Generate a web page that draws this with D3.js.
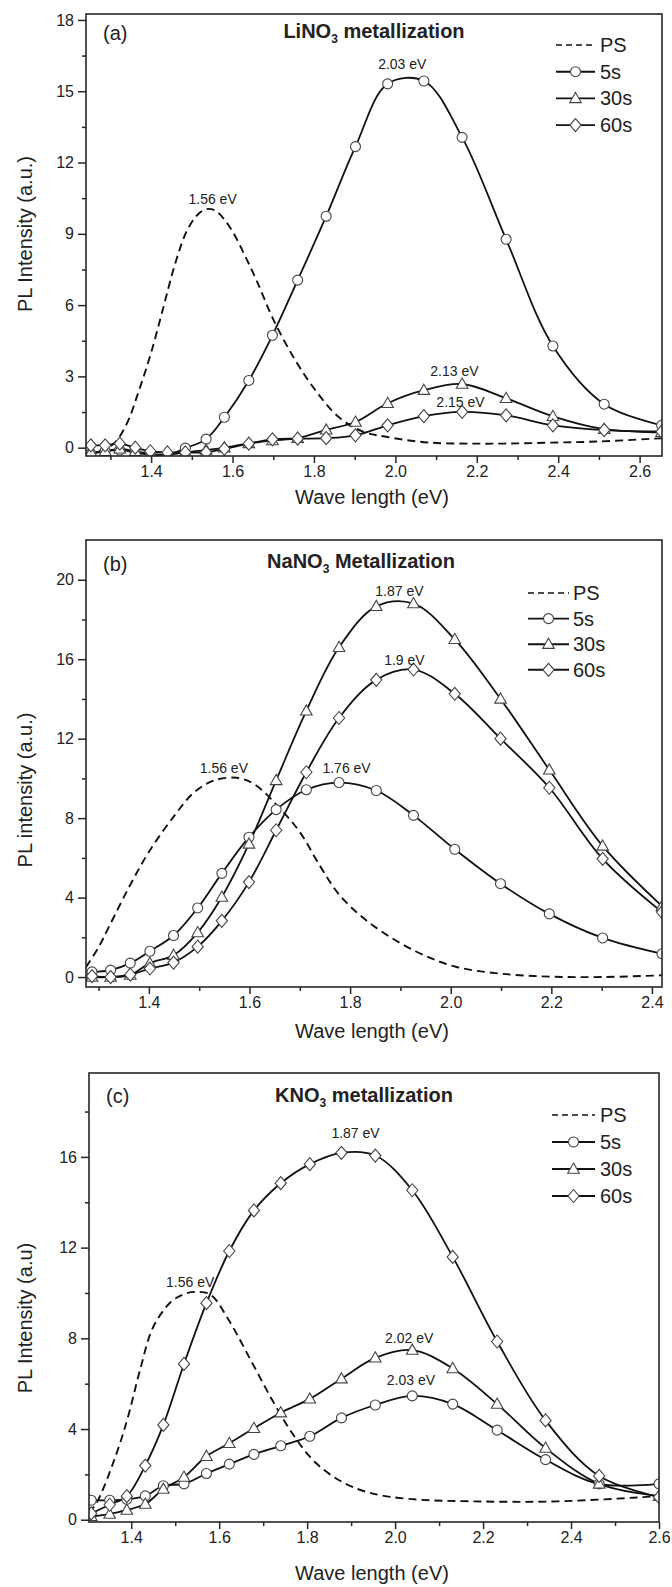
<!DOCTYPE html>
<html><head><meta charset="utf-8">
<script src="https://cdn.jsdelivr.net/npm/d3@7"></script>
<style>
body{margin:0;background:#fff;}
svg text{font-family:"Liberation Sans", Arial, Helvetica, sans-serif; fill:#222;}
</style></head><body>
<svg id="chart" width="672" height="1587"></svg>
<script>
// ---------------- DATA ----------------
const seriesNames = ["PS", "5s", "30s", "60s"];

// Panel (a) LiNO3
const aX   = [1.252,1.287,1.323,1.361,1.398,1.44,1.484,1.535,1.58,1.64,1.698,1.76,1.83,1.902,1.981,2.07,2.164,2.272,2.387,2.513,2.654];
const a5s  = [-0.25,-0.15,-0.1,-0.2,-0.3,-0.3,-0.02,0.36,1.28,2.83,4.73,7.05,9.74,12.67,15.31,15.43,13.06,8.77,4.28,1.83,0.94];
const a30s = [-0.2,-0.15,-0.05,-0.15,-0.25,-0.3,-0.2,-0.1,0.0,0.18,0.3,0.4,0.75,1.08,1.87,2.42,2.68,2.08,1.32,0.78,0.65];
const a60s = [0.1,0.1,0.17,0.0,-0.15,-0.2,-0.2,-0.2,-0.05,0.17,0.35,0.38,0.4,0.52,0.94,1.33,1.51,1.36,0.94,0.74,0.68];
const aPSx = [1.24,1.28,1.31,1.34,1.37,1.40,1.43,1.46,1.49,1.52,1.54,1.56,1.58,1.60,1.63,1.66,1.70,1.75,1.80,1.86,1.92,1.98,2.08,2.20,2.30,2.40,2.50,2.655];
const aPSy = [-0.2,-0.1,0.2,1.0,2.4,4.0,5.9,7.8,9.2,9.9,10.05,9.95,9.6,9.1,8.1,7.0,5.4,3.8,2.5,1.3,0.68,0.45,0.22,0.17,0.18,0.22,0.26,0.4];
const aNotes = ["2.03 eV","1.56 eV","2.13 eV","2.15 eV"];
const aNoteX = [2.017,1.551,2.145,2.16];
const aNoteY = [15.94,10.25,3.01,1.71];
const aXTicks = [1.4,1.6,1.8,2.0,2.2,2.4,2.6];
const aXMinor = [1.3,1.5,1.7,1.9,2.1,2.3,2.5];
const aYTicks = [0,3,6,9,12,15,18];
const aYMinor = [1.5,4.5,7.5,10.5,13.5,16.5];

// Panel (b) NaNO3
const bX   = [1.287,1.324,1.363,1.402,1.449,1.497,1.545,1.599,1.653,1.713,1.778,1.852,1.926,2.008,2.099,2.196,2.302,2.42];
const b5s  = [0.26,0.35,0.7,1.3,2.09,3.48,5.22,7.04,8.43,9.43,9.79,9.39,8.14,6.43,4.7,3.18,1.97,1.17];
const b30s = [0,0,0.1,0.7,1.1,2.24,4.03,6.7,9.9,13.4,16.6,18.66,18.8,17.0,14.0,10.43,6.6,3.57];
const b60s = [0.05,0,0.12,0.43,0.73,1.53,2.83,4.78,7.39,10.31,13.04,14.96,15.48,14.26,12.0,9.53,5.95,3.27];
const bPSx = [1.275,1.30,1.32,1.36,1.40,1.45,1.49,1.53,1.575,1.61,1.66,1.70,1.74,1.78,1.84,1.93,2.01,2.10,2.20,2.30,2.42];
const bPSy = [0.5,1.5,2.5,4.5,6.3,8.1,9.3,9.9,10.03,9.7,8.5,7.3,5.6,4.1,2.7,1.3,0.52,0.17,0.02,0,0.09];
const bNotes = ["1.87 eV","1.9 eV","1.56 eV","1.76 eV"];
const bNoteX = [1.898,1.908,1.549,1.793];
const bNoteY = [19.18,15.71,10.27,10.27];
const bXTicks = [1.4,1.6,1.8,2.0,2.2,2.4];
const bXMinor = [1.3,1.5,1.7,1.9,2.1,2.3];
const bYTicks = [0,4,8,12,16,20];
const bYMinor = [2,6,10,14,18];

// Panel (c) KNO3
const cX   = [1.309,1.351,1.39,1.432,1.473,1.52,1.571,1.623,1.679,1.74,1.806,1.878,1.955,2.039,2.131,2.232,2.342,2.464,2.6];
const c5s  = [0.86,0.86,0.9,1.05,1.5,1.58,2.04,2.45,2.88,3.26,3.68,4.49,5.06,5.46,5.1,3.95,2.65,1.58,1.58];
const c30s = [0.15,0.25,0.43,0.69,1.35,1.88,2.8,3.37,4.03,4.72,5.33,6.22,7.14,7.48,6.67,5.1,3.16,1.58,1.04];
const c60s = [0.28,0.66,1.04,2.39,4.18,6.87,9.55,11.85,13.64,14.84,15.68,16.18,16.06,14.53,11.59,7.86,4.38,1.93,1.0];
const cPSx = [1.304,1.32,1.336,1.355,1.375,1.395,1.42,1.45,1.49,1.52,1.545,1.58,1.62,1.67,1.72,1.77,1.82,1.88,1.94,2.03,2.18,2.37,2.6];
const cPSy = [0.3,0.7,1.35,2.3,3.4,4.7,6.6,8.5,9.6,9.95,10.05,9.93,8.86,7.1,5.3,3.7,2.5,1.66,1.2,0.92,0.81,0.81,1.04];
const cNotes = ["1.87 eV","1.56 eV","2.02 eV","2.03 eV"];
const cNoteX = [1.91,1.534,2.032,2.036];
const cNoteY = [16.82,10.27,7.8,5.95];
const cXTicks = [1.4,1.6,1.8,2.0,2.2,2.4,2.6];
const cXMinor = [1.5,1.7,1.9,2.1,2.3,2.5];
const cYTicks = [0,4,8,12,16];
const cYMinor = [2,6,10,14,18];

// ---------------- LAYOUT ----------------
const panels = [
  { tag:"(a)", salt:"LiNO", rest:" metallization", ytitle:"PL Intensity (a.u.)",
    box:{x0:86,x1:662,y0:14,y1:456}, xd:[1.24,2.655], yd:[-0.35,18.25],
    xs:aX, s5:a5s, s30:a30s, s60:a60s, psx:aPSx, psy:aPSy,
    notes:aNotes, nx:aNoteX, ny:aNoteY, xt:aXTicks, xm:aXMinor, yt:aYTicks, ym:aYMinor,
    tagY:40, titleX:374, titleY:38, ytY:234, xlabY:497, leg:{x0:556,x1:595,tx:600,y:45,dy:26.7} },
  { tag:"(b)", salt:"NaNO", rest:"  Metallization", ytitle:"PL intensity (a.u.)",
    box:{x0:86,x1:662,y0:540,y1:987}, xd:[1.275,2.42], yd:[-0.5,22.0],
    xs:bX, s5:b5s, s30:b30s, s60:b60s, psx:bPSx, psy:bPSy,
    notes:bNotes, nx:bNoteX, ny:bNoteY, xt:bXTicks, xm:bXMinor, yt:bYTicks, ym:bYMinor,
    tagY:571, titleX:361, titleY:568, ytY:790, xlabY:1031, leg:{x0:528,x1:569,tx:573,y:593,dy:25.6} },
  { tag:"(c)", salt:"KNO", rest:" metallization", ytitle:"PL Intensity (a.u)",
    box:{x0:89,x1:659,y0:1073,y1:1522}, xd:[1.304,2.6], yd:[-0.1,19.7],
    xs:cX, s5:c5s, s30:c30s, s60:c60s, psx:cPSx, psy:cPSy,
    notes:cNotes, nx:cNoteX, ny:cNoteY, xt:cXTicks, xm:cXMinor, yt:cYTicks, ym:cYMinor,
    tagY:1103, titleX:364, titleY:1102, ytY:1318, xlabY:1573, leg:{x0:552,x1:595,tx:600,y:1115,dy:27} }
];

const svg = d3.select("#chart");
svg.append("rect").attr("width",672).attr("height",1587).attr("fill","#fff");

const LINE = "#111", MK = "#444", AX = "#262626";

function markerPath(type){
  if(type==="tri") return "M0,-6L5.8,4.2L-5.8,4.2Z";
  if(type==="dia") return "M0,-6.5L5.6,0L0,6.5L-5.6,0Z";
  return null;
}
function drawMarker(g, type, x, y){
  if(type==="circ"){
    g.append("circle").attr("cx",x).attr("cy",y).attr("r",5)
      .attr("fill","#fff").attr("stroke",MK).attr("stroke-width",1.1);
  } else {
    g.append("path").attr("d",markerPath(type)).attr("transform",`translate(${x},${y})`)
      .attr("fill","#fff").attr("stroke",MK).attr("stroke-width",1.1);
  }
}

panels.forEach((p,i)=>{
  const b = p.box;
  const x = d3.scaleLinear().domain(p.xd).range([b.x0,b.x1]);
  const y = d3.scaleLinear().domain(p.yd).range([b.y1,b.y0]);
  const g = svg.append("g");

  const fmtX = d3.format(".1f");
  const xa = g.append("g").attr("transform",`translate(0,${b.y1})`)
    .call(d3.axisBottom(x).tickValues(p.xt).tickSize(7).tickPadding(3).tickFormat(fmtX));
  const xmi = g.append("g").attr("transform",`translate(0,${b.y1})`)
    .call(d3.axisBottom(x).tickValues(p.xm).tickSize(4).tickFormat(""));
  const ya = g.append("g").attr("transform",`translate(${b.x0},0)`)
    .call(d3.axisLeft(y).tickValues(p.yt).tickSize(8).tickPadding(4).tickFormat(d3.format("d")));
  const ymi = g.append("g").attr("transform",`translate(${b.x0},0)`)
    .call(d3.axisLeft(y).tickValues(p.ym).tickSize(4).tickFormat(""));
  [xa,xmi,ya,ymi].forEach(a=>{
    a.select(".domain").remove();
    a.selectAll(".tick line").attr("stroke",AX).attr("stroke-width",1.5);
    a.selectAll(".tick text").attr("font-size",16).attr("fill","#222")
      .style("font-family",'"Liberation Sans", Arial, sans-serif');
  });

  const cid = "clip"+i;
  svg.append("clipPath").attr("id",cid).append("rect")
    .attr("x",b.x0).attr("y",b.y0).attr("width",b.x1-b.x0).attr("height",b.y1-b.y0);
  const plot = g.append("g").attr("clip-path",`url(#${cid})`);

  const line = d3.line().x(d=>x(d[0])).y(d=>y(d[1])).curve(d3.curveCatmullRom.alpha(0.5));

  plot.append("path").datum(p.psx.map((v,k)=>[v,p.psy[k]]))
    .attr("d",line).attr("fill","none").attr("stroke",LINE)
    .attr("stroke-width",1.9).attr("stroke-dasharray","8,5");

  const sets = [[p.s5,"circ"],[p.s30,"tri"],[p.s60,"dia"]];
  sets.forEach(([vals,type])=>{
    plot.append("path").datum(p.xs.map((v,k)=>[v,vals[k]]))
      .attr("d",line).attr("fill","none").attr("stroke",LINE).attr("stroke-width",1.8);
  });
  sets.forEach(([vals,type])=>{
    p.xs.forEach((v,k)=> drawMarker(plot,type,x(v),y(vals[k])));
  });

  g.append("rect").attr("x",b.x0).attr("y",b.y0).attr("width",b.x1-b.x0).attr("height",b.y1-b.y0)
    .attr("fill","none").attr("stroke",AX).attr("stroke-width",1.6);

  p.notes.forEach((t,k)=>{
    g.append("text").attr("x",x(p.nx[k])).attr("y",y(p.ny[k])).attr("text-anchor","middle")
      .attr("font-size",14).style("font-family",'"Liberation Sans Narrow","Liberation Sans",Arial,sans-serif')
      .text(t);
  });

  g.append("text").attr("x",b.x0+17).attr("y",p.tagY).attr("font-size",20).text(p.tag);
  const tt = g.append("text").attr("x",p.titleX).attr("y",p.titleY).attr("text-anchor","middle")
    .attr("font-size",20).attr("font-weight","bold");
  tt.append("tspan").text(p.salt);
  tt.append("tspan").attr("font-size",12).attr("dy",5).text("3");
  tt.append("tspan").attr("dy",-5).text(p.rest);

  g.append("text").attr("transform",`translate(25,${p.ytY}) rotate(-90)`).attr("text-anchor","middle")
    .attr("dy","0.35em").attr("font-size",20).text(p.ytitle);
  g.append("text").attr("x",(b.x0+b.x1)/2 - 2).attr("y",p.xlabY).attr("text-anchor","middle")
    .attr("dy","0.35em").attr("font-size",20).text("Wave length (eV)");

  const L = p.leg;
  const types = [null,"circ","tri","dia"];
  seriesNames.forEach((nm,k)=>{
    const yy = L.y + k*L.dy;
    const ln = g.append("line").attr("x1",L.x0).attr("x2",L.x1).attr("y1",yy).attr("y2",yy)
      .attr("stroke",LINE).attr("stroke-width",k===0?1.7:1.9);
    if(k===0) ln.attr("stroke-dasharray","6,4");
    else drawMarker(g,types[k],(L.x0+L.x1)/2,yy);
    g.append("text").attr("x",L.tx).attr("y",yy).attr("dy","0.35em").attr("font-size",20).text(nm);
  });
});
</script>
</body></html>
